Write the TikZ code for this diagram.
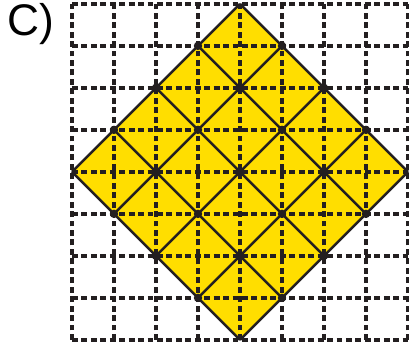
\documentclass[tikz,border=0pt]{standalone}
\usepackage{fontspec}
\setsansfont{Liberation Sans}
\usepackage{tikz}
\definecolor{dfyellow}{RGB}{255,222,0}
\definecolor{dfink}{RGB}{35,31,32}
\tikzstyle{gridline} = [dfink, line width=2.7pt, dash pattern=on 4pt off 2.4pt]
\tikzstyle{diagline} = [dfink, line width=1.7pt, line join=miter]

\begin{document}
\begin{tikzpicture}[x=1cm,y=1cm]
\useasboundingbox (0,0) rectangle (9.738,8.262);

% Label
\node[font=\sffamily\fontsize{30}{33}\selectfont] (label) at (0.73,7.7) {C)};

\begin{scope}[shift={(5.714,4.17)}]
% Diamond
\fill[dfyellow] (0,4) -- (4,0) -- (0,-4) -- (-4,0) -- cycle;

% Square grid
\foreach \k in {-4,...,4} {
  \draw[gridline] (\k,-4) -- (\k,4);
  \draw[gridline] (-4,\k) -- (4,\k);
}

% Diagonals
\foreach \c in {-4,-2,0,2,4} {
  \draw[diagline] ({(\c-4)/2},{(\c+4)/2}) -- ({(\c+4)/2},{(\c-4)/2});
  \draw[diagline] ({(\c+4)/2},{(4-\c)/2}) -- ({(\c-4)/2},{(-4-\c)/2});
}

% Lattice points
\foreach \i in {-3,...,3} {
  \foreach \j in {-3,...,3} {
    \pgfmathtruncatemacro\s{abs(\i)+abs(\j)}
    \pgfmathtruncatemacro\p{mod(abs(\i+\j),2)}
    \ifnum\p=0 \ifnum\s<5
      \fill[dfink] (\i,\j) circle (0.1);
    \fi\fi
  }
}
\end{scope}
\end{tikzpicture}
\end{document}
